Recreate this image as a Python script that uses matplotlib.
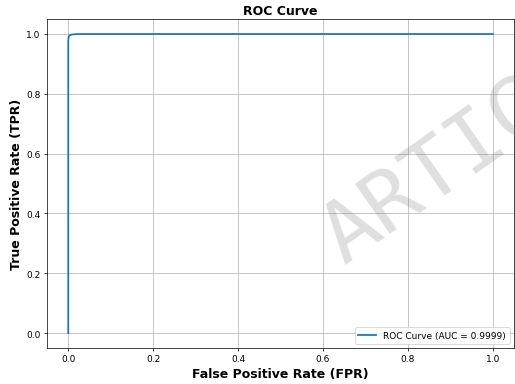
import numpy as np
import matplotlib
matplotlib.use("Agg")
import matplotlib.pyplot as plt

# ROC points
fpr = [0.0, 0.0, 0.0005, 0.001, 0.002, 0.004, 0.007, 0.010, 0.015, 0.020, 0.030, 1.0]
tpr = [0.0, 0.975, 0.985, 0.990, 0.994, 0.996, 0.998, 0.9985, 0.9992, 0.9996, 1.0, 1.0]
auc_value = 0.9999
watermark = "ARTICLE"

fig = plt.figure(figsize=(8, 5.98), dpi=64.375)
ax = fig.add_axes([0.0913, 0.0935, 0.907, 0.8545])

ax.plot(fpr, tpr, color="#1f77b4", lw=2, label="ROC Curve (AUC = {:.4f})".format(auc_value))
ax.set_title("ROC Curve", fontsize=14, fontweight="bold")
ax.set_xlabel("False Positive Rate (FPR)", fontsize=14, fontweight="bold")
ax.set_ylabel("True Positive Rate (TPR)", fontsize=14, fontweight="bold")
ax.grid(True)
ax.legend(loc="lower right", fontsize=10)

# watermark, runs off the right edge like in the original
fig.text(344 / 515, 1 - 265 / 385, watermark, fontsize=95, family="DejaVu Sans Mono",
         color="gray", alpha=0.25, rotation=35, rotation_mode="anchor",
         ha="left", va="baseline")

fig.savefig("out.png", dpi=64.375)
